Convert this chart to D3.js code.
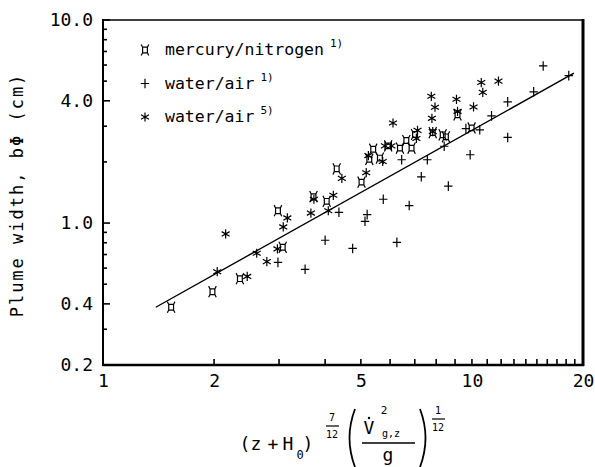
<!DOCTYPE html>
<html lang="en">
<head>
<meta charset="utf-8">
<script src="https://d3js.org/d3.v7.min.js"></script>
<style>
  body { margin: 0; background: #fff; }
  text { font-family: "DejaVu Sans Mono", monospace; fill: #000; }
  .tick text { font-size: 18px; }
  .mark { fill: none; stroke: #000; stroke-width: 1.2; }
  .frame, .tk { stroke: #000; }
</style>
</head>
<body>
<script>
// mercury/nitrogen 1)
var hgX = [1.53, 1.98, 2.35, 3.07, 2.98, 3.72, 4.04, 4.30, 5.02, 5.27, 5.40, 5.63, 5.93, 6.38, 6.64, 6.86, 7.01, 7.83, 8.33, 8.50, 9.14, 9.98];
var hgY = [0.385, 0.459, 0.532, 0.760, 1.15, 1.35, 1.28, 1.85, 1.59, 2.06, 2.31, 2.09, 2.40, 2.34, 2.55, 2.34, 2.73, 2.79, 2.72, 2.66, 3.41, 2.94];
// water/air 1)
var wa1X = [2.98, 3.53, 4.00, 4.75, 6.26, 4.36, 5.20, 5.13, 5.75, 6.76, 7.29, 8.63, 6.45, 7.57, 8.41, 9.63, 10.5, 9.89, 11.3, 12.5, 12.5, 14.7, 15.6, 18.3];
var wa1Y = [0.640, 0.592, 0.823, 0.750, 0.803, 1.13, 1.10, 1.02, 1.31, 1.22, 1.69, 1.52, 2.05, 2.05, 2.39, 2.92, 2.88, 2.17, 3.37, 2.64, 3.95, 4.43, 5.94, 5.32];
// water/air 5)
var wa5X = [2.04, 2.15, 2.46, 2.61, 2.78, 2.97, 3.08, 3.16, 3.66, 3.73, 4.08, 4.21, 4.44, 5.17, 5.24, 5.73, 5.81, 6.05, 6.11, 7.12, 7.07, 7.76, 7.94, 7.79, 7.83, 9.08, 9.14, 10.1, 10.6, 10.7, 11.8];
var wa5Y = [0.576, 0.884, 0.546, 0.710, 0.646, 0.746, 0.957, 1.06, 1.12, 1.31, 1.15, 1.37, 1.66, 1.77, 2.15, 2.01, 2.40, 2.40, 3.11, 2.86, 2.61, 4.21, 3.72, 3.28, 2.82, 4.07, 3.55, 3.73, 4.92, 4.40, 5.00];
// fitted line
var fitX = [1.39, 18.9];
var fitY = [0.385, 5.47];

var xTicks = d3.range(1, 21);
var xLabels = [1, 2, 5, 10, 20];
var yTicks = [0.2, 0.3, 0.4, 0.5, 0.6, 0.7, 0.8, 0.9, 1, 2, 3, 4, 5, 6, 7, 8, 9, 10];
var yLabels = [0.2, 0.4, 1, 4, 10];

var legendKinds = ["hg", "plus", "star"];
var legendNames = ["mercury/nitrogen", "water/air", "water/air"];
var legendRefs = ["1)", "1)", "5)"];

var w = 595, h = 467;
var svg = d3.select("body").append("svg").attr("width", w).attr("height", h);

var x = d3.scaleLog().domain([1, 20]).range([103, 583]);
var y = d3.scaleLog().domain([0.2, 10]).range([365, 20]);

function markPath(kind) {
  var p = d3.path();
  if (kind === "plus") {
    p.moveTo(-4.2, 0); p.lineTo(4.2, 0);
    p.moveTo(0, -4.8); p.lineTo(0, 4.8);
  } else if (kind === "star") {
    var r = 4.6, t = r / 2, u = t * Math.sqrt(3);
    p.moveTo(0, -r); p.lineTo(0, r);
    p.moveTo(-u, -t); p.lineTo(u, t);
    p.moveTo(-u, t); p.lineTo(u, -t);
  } else {
    p.rect(-2.4, -2.8, 4.8, 5.6);
    p.moveTo(-2.4, -2.8); p.lineTo(-3.8, -5.6);
    p.moveTo(2.4, -2.8); p.lineTo(3.8, -5.6);
    p.moveTo(-2.4, 2.8); p.lineTo(-3.8, 5.6);
    p.moveTo(2.4, 2.8); p.lineTo(3.8, 5.6);
  }
  return p.toString();
}

// axis labels
var gx = svg.append("g")
  .attr("transform", "translate(0,365)")
  .call(d3.axisBottom(x).tickValues(xLabels).tickSize(0).tickPadding(9)
    .tickFormat(function (d) { return d; }));
gx.select(".domain").remove();

var gy = svg.append("g")
  .attr("transform", "translate(103,0)")
  .call(d3.axisLeft(y).tickValues(yLabels).tickSize(0).tickPadding(10)
    .tickFormat(d3.format(".1f")));
gy.select(".domain").remove();

// inward tick marks
svg.append("g").selectAll("line").data(xTicks).enter().append("line")
  .attr("class", "tk").attr("stroke-width", 1.6)
  .attr("x1", function (d) { return x(d); }).attr("x2", function (d) { return x(d); })
  .attr("y1", 365).attr("y2", 359);
svg.append("g").selectAll("line").data(yTicks).enter().append("line")
  .attr("class", "tk").attr("stroke-width", 1.6)
  .attr("x1", 103).attr("x2", function (d) { return yLabels.indexOf(d) >= 0 ? 110 : 107; })
  .attr("y1", function (d) { return y(d); }).attr("y2", function (d) { return y(d); });

// frame
svg.append("line").attr("class", "frame").attr("x1", 103).attr("x2", 583).attr("y1", 20).attr("y2", 20).attr("stroke-width", 1.5);
svg.append("line").attr("class", "frame").attr("x1", 103).attr("x2", 584).attr("y1", 365).attr("y2", 365).attr("stroke-width", 2.5);
svg.append("line").attr("class", "frame").attr("x1", 103).attr("x2", 103).attr("y1", 19).attr("y2", 366).attr("stroke-width", 2);
svg.append("line").attr("class", "frame").attr("x1", 583).attr("x2", 583).attr("y1", 19).attr("y2", 366).attr("stroke-width", 3);

// fitted line
svg.append("path")
  .datum(d3.zip(fitX, fitY))
  .attr("fill", "none").attr("stroke", "#000").attr("stroke-width", 1.4)
  .attr("d", d3.line().x(function (d) { return x(d[0]); }).y(function (d) { return y(d[1]); }));

function drawSeries(xs, ys, kind) {
  svg.append("g").selectAll("path")
    .data(d3.zip(xs, ys))
    .enter().append("path")
    .attr("class", "mark")
    .attr("transform", function (d) { return "translate(" + x(d[0]) + "," + y(d[1]) + ")"; })
    .attr("d", markPath(kind));
}
drawSeries(wa1X, wa1Y, "plus");
drawSeries(wa5X, wa5Y, "star");
drawSeries(hgX, hgY, "hg");

// legend
var lg = svg.append("g");
legendKinds.forEach(function (k, i) {
  var ly = 50 + i * 33.5;
  lg.append("path").attr("class", "mark").attr("transform", "translate(145," + ly + ")").attr("d", markPath(k));
  var t = lg.append("text").attr("x", 165).attr("y", ly + 5).style("font-size", "16.5px").text(legendNames[i]);
  var tw = t.node().getComputedTextLength();
  lg.append("text").attr("x", 165 + tw + 6).attr("y", ly - 3).style("font-size", "11px").text(legendRefs[i]);
});

// y title
svg.append("text")
  .attr("transform", "translate(23,195) rotate(-90)")
  .attr("text-anchor", "middle")
  .style("font-size", "17px").style("letter-spacing", "2px")
  .text("Plume width, b\u03A6 (cm)");

// x title
var xt = svg.append("g");
function tx(px, py, s, size) {
  xt.append("text").attr("x", px).attr("y", py).attr("text-anchor", "middle")
    .style("font-size", size + "px").text(s);
}
function rule(x1, x2, yy, sw) {
  xt.append("line").attr("x1", x1).attr("x2", x2).attr("y1", yy).attr("y2", yy)
    .attr("stroke", "#000").attr("stroke-width", sw);
}
function paren(px, dir) {
  var p = d3.path();
  p.moveTo(px, 409);
  p.quadraticCurveTo(px - dir * 11, 438, px, 467);
  xt.append("path").attr("d", p.toString()).attr("fill", "none").attr("stroke", "#000").attr("stroke-width", 1.8);
}
tx(245, 450, "(", 18);
tx(256, 450, "z", 18);
tx(273, 450, "+", 18);
tx(288, 450, "H", 18);
tx(300, 459, "0", 12);
tx(308, 450, ")", 18);
tx(332, 421, "7", 10);
rule(326, 339, 426, 1.2);
tx(332, 438, "12", 10);
paren(355, 1);
tx(369, 434, "V", 18);
xt.append("circle").attr("cx", 369).attr("cy", 418).attr("r", 1.2).attr("fill", "#000");
tx(384, 414, "2", 11);
tx(391, 437, "g,z", 10);
rule(362, 415, 443, 1.4);
tx(388, 461, "g", 18);
paren(420, -1);
tx(438, 414, "1", 10);
rule(432, 445, 419, 1.2);
tx(438, 431, "12", 10);
</script>
</body>
</html>
